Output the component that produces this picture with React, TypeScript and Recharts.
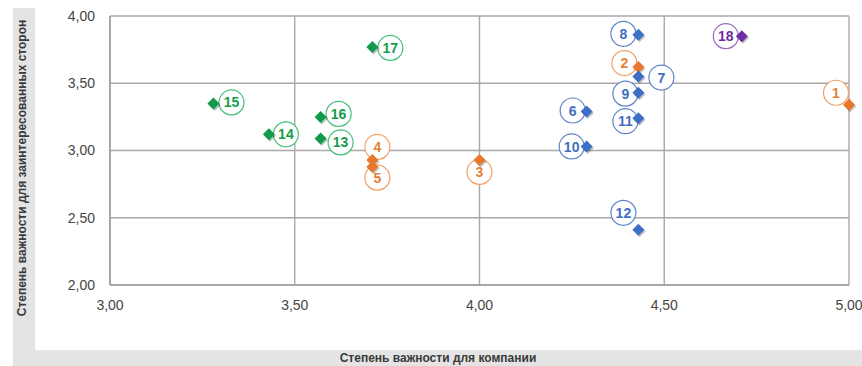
import { CartesianGrid, Scatter, ScatterChart, XAxis, YAxis } from "recharts";

type Pt = { id: number; x: number; y: number };

const xTicks = [3, 3.5, 4, 4.5, 5];
const yTicks = [2, 2.5, 3, 3.5, 4];

const greenPoints: Pt[] = [
  { id: 13, x: 3.57, y: 3.09 },
  { id: 14, x: 3.43, y: 3.12 },
  { id: 15, x: 3.28, y: 3.35 },
  { id: 16, x: 3.57, y: 3.25 },
  { id: 17, x: 3.71, y: 3.77 },
];

const orangePoints: Pt[] = [
  { id: 1, x: 5.0, y: 3.34 },
  { id: 2, x: 4.43, y: 3.62 },
  { id: 3, x: 4.0, y: 2.93 },
  { id: 4, x: 3.71, y: 2.93 },
  { id: 5, x: 3.71, y: 2.88 },
];

const bluePoints: Pt[] = [
  { id: 6, x: 4.29, y: 3.29 },
  { id: 7, x: 4.43, y: 3.55 },
  { id: 8, x: 4.43, y: 3.86 },
  { id: 9, x: 4.43, y: 3.43 },
  { id: 10, x: 4.29, y: 3.03 },
  { id: 11, x: 4.43, y: 3.24 },
  { id: 12, x: 4.43, y: 2.41 },
];

const purplePoints: Pt[] = [{ id: 18, x: 4.71, y: 3.85 }];

// where each numbered circle sits relative to its marker (px)
const labelOffset: Record<number, [number, number]> = {
  1: [-13, -12], 2: [-14, -4], 3: [0, 12], 4: [5, -13], 5: [5, 11],
  6: [-14, -1], 7: [23, 1], 8: [-15, -1], 9: [-13, 1], 10: [-15, 0],
  11: [-13, 3], 12: [-15, -17], 13: [20, 4], 14: [17, 0], 15: [18, -1],
  16: [18, -3], 17: [18, 1], 18: [-16, 0],
};

const series = [
  { key: "green", data: greenPoints, fill: "#12994a", ring: "#45c07c", text: "#169c4c" },
  { key: "orange", data: orangePoints, fill: "#e8772b", ring: "#f0a068", text: "#e57f35" },
  { key: "blue", data: bluePoints, fill: "#3d6fc6", ring: "#5d84c8", text: "#3f6ec4" },
  { key: "purple", data: purplePoints, fill: "#6f2da3", ring: "#9a6cc0", text: "#6f2da3" },
];

const fmt = (v: number) => v.toFixed(2).replace(".", ",");
const font = "'Liberation Sans', Arial, sans-serif";

const labelShape = (ring: string, text: string) => (props: any) => {
  const { cx, cy, payload } = props;
  const [dx, dy] = labelOffset[payload.id] || [0, 0];
  return (
    <g>
      <circle cx={cx + dx} cy={cy + dy} r={12.5} fill="#fff" stroke={ring} strokeWidth={1.2} />
      <text
        x={cx + dx}
        y={cy + dy}
        dy="0.36em"
        textAnchor="middle"
        fontFamily={font}
        fontWeight="bold"
        fontSize={14}
        fill={text}
      >
        {payload.id}
      </text>
    </g>
  );
};

const diamondShape = (fill: string) => (props: any) => {
  const { cx, cy } = props;
  const s = 6;
  const pts = (ox: number, oy: number) =>
    `${cx + ox},${cy - s + oy} ${cx + s + ox},${cy + oy} ${cx + ox},${cy + s + oy} ${cx - s + ox},${cy + oy}`;
  return (
    <g>
      <polygon points={pts(1.2, 1.5)} fill="rgba(0,0,0,0.25)" />
      <polygon points={pts(0, 0)} fill={fill} />
    </g>
  );
};

export default function App() {
  return (
    <div style={{ position: "relative", width: 862, height: 366, background: "#fff", overflow: "hidden" }}>
      <style>{`body{margin:0}`}</style>
      <div style={{ position: "absolute", left: 13, top: 8, width: 22, height: 358, background: "#e4e4e4" }} />
      <div style={{ position: "absolute", left: 13, top: 350, width: 849, height: 16, background: "#e4e4e4" }} />
      <div style={{ position: "absolute", left: 0, top: 0 }}>
        <ScatterChart width={862} height={366} margin={{ top: 16, right: 13, left: 0, bottom: 0 }}>
          <CartesianGrid stroke="#a9a9a9" strokeWidth={1.4} horizontalValues={yTicks} verticalValues={xTicks} />
          <XAxis
            type="number"
            dataKey="x"
            domain={[3, 5]}
            ticks={xTicks}
            tickFormatter={fmt}
            height={81}
            axisLine={{ stroke: "#a0a0a0", strokeWidth: 1.6 }}
            tickLine={false}
            tickSize={0}
            tickMargin={15}
            tick={{ fill: "#454545", fontSize: 14, fontFamily: font }}
          />
          <YAxis
            type="number"
            dataKey="y"
            domain={[2, 4]}
            ticks={yTicks}
            tickFormatter={fmt}
            width={110}
            axisLine={{ stroke: "#a0a0a0", strokeWidth: 1.6 }}
            tickLine={false}
            tickSize={0}
            tickMargin={15}
            tick={{ fill: "#454545", fontSize: 14, fontFamily: font }}
          />
          {series.map((s) => (
            <Scatter
              key={"l-" + s.key}
              data={s.data}
              shape={labelShape(s.ring, s.text)}
              isAnimationActive={false}
            />
          ))}
          {series.map((s) => (
            <Scatter
              key={"d-" + s.key}
              data={s.data}
              shape={diamondShape(s.fill)}
              isAnimationActive={false}
            />
          ))}
        </ScatterChart>
      </div>
      <svg width={862} height={366} style={{ position: "absolute", left: 0, top: 0, pointerEvents: "none" }}>
        <text
          x={0}
          y={0}
          transform="translate(26,168) rotate(-90)"
          textAnchor="middle"
          fontFamily={font}
          fontWeight="bold"
          fontSize={12}
          fill="#3a3a3a"
        >
          Степень важности для заинтересованных сторон
        </text>
        <text x={438} y={362} textAnchor="middle" fontFamily={font} fontWeight="bold" fontSize={12} fill="#3a3a3a">
          Степень важности для компании
        </text>
      </svg>
    </div>
  );
}
